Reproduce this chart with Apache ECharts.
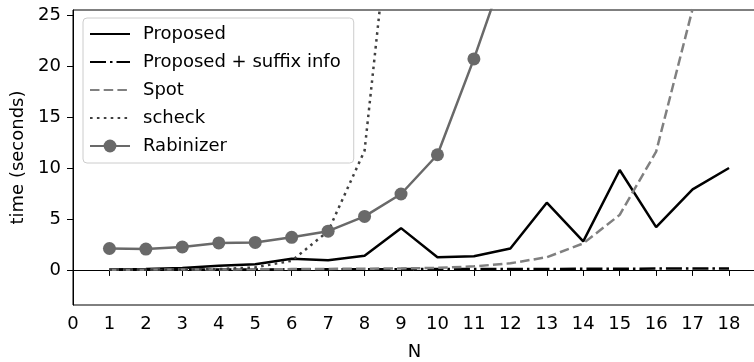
<!DOCTYPE html>
<html>
<head>
<meta charset="utf-8">
<script src="https://cdn.jsdelivr.net/npm/echarts@6/dist/echarts.min.js"></script>
<style>
  html, body { margin: 0; padding: 0; background: #fff; }
  #chart { width: 754px; height: 362px; }
</style>
</head>
<body>
<div id="chart"></div>
<script>
// N on the x axis, times in seconds
var nValues = [1, 2, 3, 4, 5, 6, 7, 8, 9, 10, 11, 12, 13, 14, 15, 16, 17, 18];
var proposed = [0.05, 0.1, 0.2, 0.4, 0.55, 1.1, 0.95, 1.4, 4.1, 1.25, 1.35, 2.1, 6.6, 2.8, 9.8, 4.2, 7.9, 10.0];
var suffixInfo = [0.02, 0.03, 0.04, 0.05, 0.05, 0.06, 0.06, 0.07, 0.08, 0.08, 0.09, 0.1, 0.1, 0.11, 0.12, 0.13, 0.14, 0.15];
var spot = [0.02, 0.03, 0.04, 0.05, 0.06, 0.08, 0.1, 0.12, 0.15, 0.2, 0.35, 0.65, 1.25, 2.6, 5.4, 11.6, 25.6];
var scheck = [0.01, 0.02, 0.04, 0.08, 0.25, 0.9, 3.8, 11.7, 45];
var rabinizer = [2.1, 2.05, 2.25, 2.65, 2.7, 3.2, 3.8, 5.25, 7.45, 11.3, 20.7, 31];
var xTicks = [0, 1, 2, 3, 4, 5, 6, 7, 8, 9, 10, 11, 12, 13, 14, 15, 16, 17, 18];
var yTicks = [0, 5, 10, 15, 20, 25];

function pairs(vals) {
  return vals.map(function (v, i) { return [nValues[i], v]; });
}

var font = 'DejaVu Sans';
var chart = echarts.init(document.getElementById('chart'));

var option = {
  animation: false,
  textStyle: { fontFamily: font },
  grid: {
    left: 73, top: 10, right: -2, bottom: 57,
    outerBoundsMode: 'none', containLabel: false,
    show: true, borderColor: '#000', borderWidth: 1
  },
  legend: {
    orient: 'vertical',
    left: 83,
    top: 18,
    padding: [7, 13, 8, 6],
    itemWidth: 40,
    itemHeight: 16,
    itemGap: 10,
    backgroundColor: 'rgba(255,255,255,0.8)',
    borderColor: '#cccccc',
    borderWidth: 1,
    borderRadius: 4,
    textStyle: { fontFamily: font, fontSize: 18, color: '#000', padding: [0, 0, 0, 8] },
    data: [
      { name: 'Proposed', itemStyle: { opacity: 0 } },
      { name: 'Proposed + suffix info', itemStyle: { opacity: 0 } },
      { name: 'Spot', itemStyle: { opacity: 0 } },
      { name: 'scheck', itemStyle: { opacity: 0 } },
      { name: 'Rabinizer' }
    ]
  },
  xAxis: {
    type: 'value',
    min: 0,
    max: 18.74,
    name: 'N',
    nameLocation: 'middle',
    nameGap: 38,
    nameTextStyle: { fontFamily: font, fontSize: 18, color: '#000' },
    splitLine: { show: false },
    axisLine: { lineStyle: { color: '#000', width: 1 } },
    axisTick: { length: 6, customValues: xTicks, lineStyle: { color: '#000' } },
    axisLabel: { customValues: xTicks, margin: 10, fontFamily: font, fontSize: 18, color: '#000' }
  },
  yAxis: {
    type: 'value',
    min: -3.44,
    max: 25.5,
    name: 'time (seconds)',
    nameLocation: 'middle',
    nameGap: 42,
    nameTextStyle: { fontFamily: font, fontSize: 18, color: '#000' },
    splitLine: { show: false },
    axisLine: { show: true, lineStyle: { color: '#000', width: 1 } },
    axisTick: { show: true, length: 6, customValues: yTicks, lineStyle: { color: '#000' } },
    axisLabel: { customValues: yTicks, margin: 12, fontFamily: font, fontSize: 18, color: '#000' }
  },
  series: [
    {
      name: 'Proposed', type: 'line', data: pairs(proposed), symbol: 'none',
      itemStyle: { color: '#000' },
      lineStyle: { color: '#000', width: 2.5 }
    },
    {
      name: 'Proposed + suffix info', type: 'line', data: pairs(suffixInfo), symbol: 'none',
      itemStyle: { color: '#000' },
      lineStyle: { color: '#000', width: 2.5, type: [16, 4, 2.5, 4] }
    },
    {
      name: 'Spot', type: 'line', data: pairs(spot), symbol: 'none',
      itemStyle: { color: '#808080' },
      lineStyle: { color: '#808080', width: 2.5, type: [9.5, 4.2] }
    },
    {
      name: 'scheck', type: 'line', data: pairs(scheck), symbol: 'none',
      itemStyle: { color: '#404040' },
      lineStyle: { color: '#404040', width: 2.5, type: [2.6, 4.3] }
    },
    {
      name: 'Rabinizer', type: 'line', data: pairs(rabinizer), symbol: 'circle', symbolSize: 13,
      itemStyle: { color: '#696969' },
      lineStyle: { color: '#696969', width: 2.5 }
    }
  ]
};
chart.setOption(option);
</script>
</body>
</html>
